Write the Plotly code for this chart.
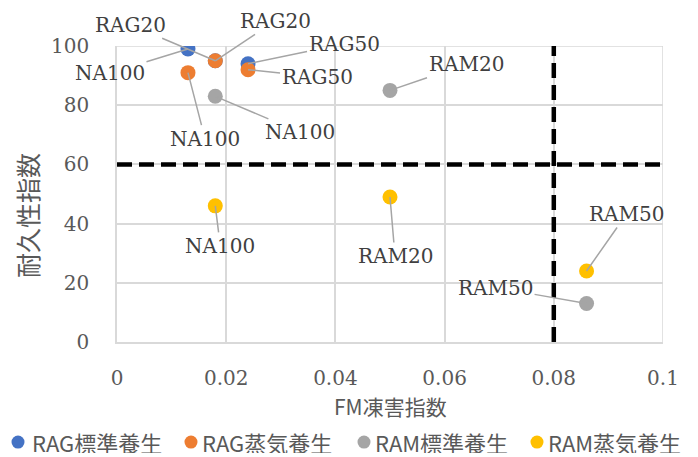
import plotly.graph_objects as go

# Data
series_names = ["RAG標準養生", "RAG蒸気養生", "RAM標準養生", "RAM蒸気養生"]
colors = ["#4472C4", "#ED7D31", "#A5A5A5", "#FFC000"]

rag_std_labels = ["NA100", "RAG20", "RAG50"]
rag_std_x = [0.013, 0.018, 0.024]
rag_std_y = [99, 95, 94]

rag_steam_labels = ["NA100", "RAG20", "RAG50"]
rag_steam_x = [0.013, 0.018, 0.024]
rag_steam_y = [91, 95, 92]

ram_std_labels = ["NA100", "RAM20", "RAM50"]
ram_std_x = [0.018, 0.05, 0.086]
ram_std_y = [83, 85, 13]

ram_steam_labels = ["NA100", "RAM20", "RAM50"]
ram_steam_x = [0.018, 0.05, 0.086]
ram_steam_y = [46, 49, 24]

threshold_y = 60
threshold_x = 0.08

x_ticks = [0, 0.02, 0.04, 0.06, 0.08, 0.1]
x_tick_text = ["0", "0.02", "0.04", "0.06", "0.08", "0.1"]
y_ticks = [0, 20, 40, 60, 80, 100]

x_title = "FM凍害指数"
y_title = "耐久性指数"

all_series = [
    (rag_std_labels, rag_std_x, rag_std_y),
    (rag_steam_labels, rag_steam_x, rag_steam_y),
    (ram_std_labels, ram_std_x, ram_std_y),
    (ram_steam_labels, ram_steam_x, ram_steam_y),
]

# label offsets (pixels) for leader-line labels, per series
label_offsets = [
    [(-78, 24), (-85, -36), (96, -20)],
    [(17, 66), (60, -40), (69, 7)],
    [(85, 36), (76, -26), (-91, -16)],
    [(5, 40), (5, 59), (40, -57)],
]

# manual legend layout (paper coords): marker x, text x, y
legend_marker_x = [-0.1813, 0.1355, 0.4524, 0.7692]
legend_text_x = [-0.1593, 0.152, 0.469, 0.7857]
legend_y = -0.338

fig = go.Figure()

dash_style = "15px,7px"
fig.add_trace(go.Scatter(x=[0, 0.1], y=[threshold_y, threshold_y], mode="lines",
                         line=dict(color="black", width=4.5, dash=dash_style),
                         showlegend=False, hoverinfo="skip"))
fig.add_trace(go.Scatter(x=[threshold_x, threshold_x], y=[0, 100], mode="lines",
                         line=dict(color="black", width=4.5, dash=dash_style),
                         showlegend=False, hoverinfo="skip"))

order = [2, 3, 0, 1]
for i in order:
    labels, xs, ys = all_series[i]
    fig.add_trace(go.Scatter(x=xs, y=ys, mode="markers", name=series_names[i],
                             marker=dict(color=colors[i], size=15),
                             showlegend=False))

annotations = []
for i, (labels, xs, ys) in enumerate(all_series):
    for j, lab in enumerate(labels):
        ax, ay = label_offsets[i][j]
        annotations.append(dict(
            x=xs[j], y=ys[j], text=lab, showarrow=True, arrowhead=0,
            arrowwidth=1.5, arrowcolor="#A5A5A5", ax=ax, ay=ay,
            font=dict(family="DejaVu Serif", size=20, color="#404040"),
            standoff=0, startstandoff=0))

# axis titles
annotations.append(dict(x=0.5, y=-0.216, xref="paper", yref="paper", text=x_title,
                        showarrow=False, xanchor="center", yanchor="middle", height=24,
                        font=dict(family="Noto Sans CJK JP", size=21, color="#595959")))
annotations.append(dict(x=-0.165, y=0.429, xref="paper", yref="paper", text=y_title,
                        showarrow=False, xanchor="center", yanchor="middle", textangle=-90,
                        font=dict(family="Noto Sans CJK JP", size=25, color="#595959")))

shapes = []
for k in range(4):
    annotations.append(dict(x=legend_text_x[k], y=legend_y, xref="paper", yref="paper",
                            text=series_names[k], showarrow=False, xanchor="left",
                            yanchor="middle", height=22,
                            font=dict(family="Noto Sans CJK JP", size=22, color="#595959")))
    shapes.append(dict(type="circle", xref="paper", yref="paper",
                       xsizemode="pixel", ysizemode="pixel",
                       xanchor=legend_marker_x[k], yanchor=legend_y,
                       x0=-6.5, x1=6.5, y0=-6.5, y1=6.5,
                       fillcolor=colors[k], line=dict(width=0)))

shapes.append(dict(type="line", xref="x", yref="y", x0=0, x1=0.1, y0=100, y1=100,
                   line=dict(color="#D9D9D9", width=1.5), layer="below"))
shapes.append(dict(type="line", xref="x", yref="y", x0=0.1, x1=0.1, y0=0, y1=100,
                   line=dict(color="#D9D9D9", width=1.5), layer="below"))

fig.update_layout(
    width=698, height=457,
    margin=dict(l=109, r=43, t=38, b=123, autoexpand=False),
    paper_bgcolor="white", plot_bgcolor="white",
    showlegend=False,
    annotations=annotations,
    shapes=shapes,
    xaxis=dict(range=[0, 0.1], tickvals=x_ticks, ticktext=x_tick_text,
               showgrid=True, gridcolor="#D9D9D9", gridwidth=1.5,
               showline=True, linecolor="#D9D9D9", linewidth=1.5, zeroline=False,
               ticks="", ticklabelstandoff=17,
               tickfont=dict(family="DejaVu Serif", size=20, color="#595959")),
    yaxis=dict(range=[0, 100], tickvals=y_ticks,
               showgrid=True, gridcolor="#D9D9D9", gridwidth=1.5,
               showline=True, linecolor="#D9D9D9", linewidth=1.5, zeroline=False,
               ticks="", ticklabelstandoff=22,
               tickfont=dict(family="DejaVu Serif", size=20, color="#595959")),
)

fig.write_html("out.html")
